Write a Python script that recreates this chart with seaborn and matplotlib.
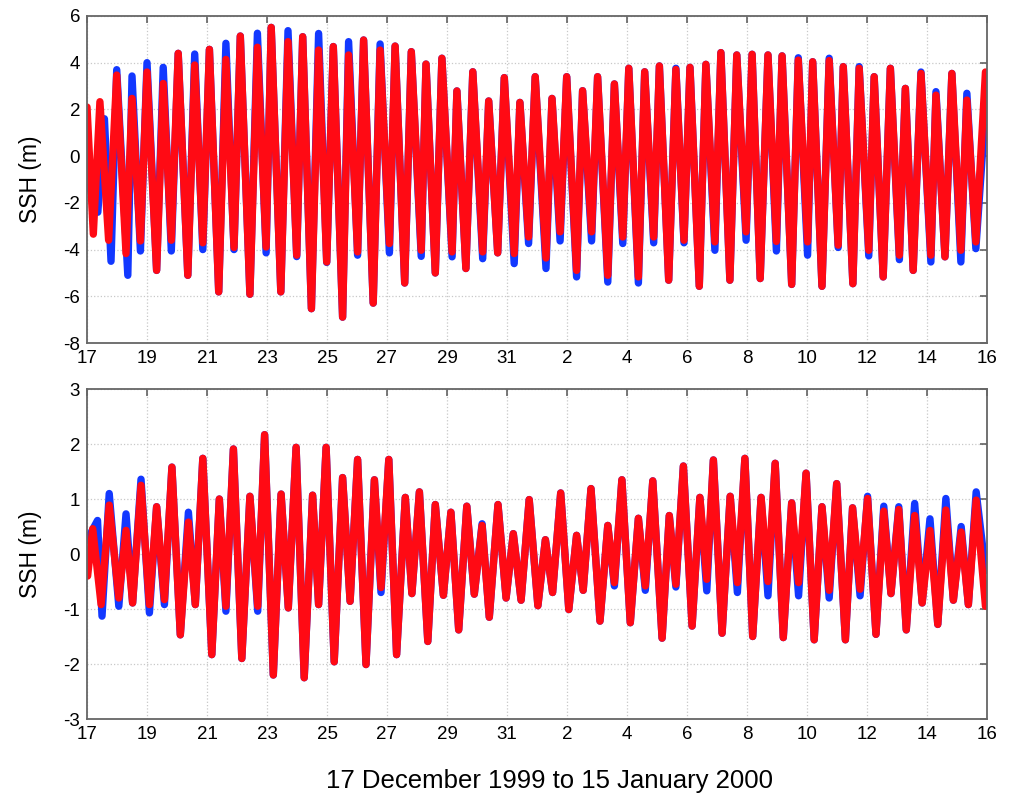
import numpy as np
import seaborn as sns
import matplotlib
matplotlib.use("Agg")
import matplotlib.pyplot as plt

# days since 17 Dec 1999, high / low water (m)
red_top_days = [0.00, 0.21, 0.43, 0.72, 0.99, 1.30, 1.50, 1.78, 2.00, 2.32,
                2.54, 2.81, 3.04, 3.36, 3.59, 3.86, 4.08, 4.39, 4.63, 4.90,
                5.11, 5.43, 5.68, 5.97, 6.14, 6.46, 6.70, 6.99, 7.19, 7.48,
                7.72, 7.99, 8.21, 8.52, 8.72, 9.02, 9.22, 9.54, 9.77, 10.08,
                10.27, 10.59, 10.81, 11.14, 11.30, 11.61, 11.83, 12.17, 12.33, 12.63,
                12.86, 13.19, 13.39, 13.69, 13.91, 14.24, 14.43, 14.72, 14.94, 15.30,
                15.50, 15.77, 15.99, 16.32, 16.52, 16.82, 17.02, 17.36, 17.58, 17.86,
                18.06, 18.38, 18.59, 18.89, 19.08, 19.39, 19.63, 19.90, 20.10, 20.41,
                20.63, 20.93, 21.13, 21.43, 21.66, 21.97, 22.17, 22.44, 22.70, 22.98,
                23.17, 23.49, 23.71, 24.02, 24.19, 24.50, 24.74, 25.04, 25.21, 25.53,
                25.74, 26.06, 26.24, 26.54, 26.78, 27.08, 27.28, 27.54, 27.80, 28.13,
                28.30, 28.60, 28.83, 29.13, 29.33, 29.63, 29.95]
red_top_ssh = [2.10, -3.34, 2.33, -3.60, 3.47, -4.17, 2.47, -3.63, 3.60, -4.89,
               3.11, -3.60, 4.40, -5.10, 3.90, -3.71, 4.57, -5.81, 4.14, -3.91,
               5.14, -5.91, 4.66, -3.89, 5.51, -5.81, 4.90, -4.24, 5.11, -6.53,
               4.54, -4.53, 4.69, -6.89, 4.33, -4.10, 4.97, -6.29, 4.54, -3.74,
               4.71, -5.43, 4.47, -4.03, 3.94, -5.00, 4.19, -4.10, 2.79, -4.81,
               3.61, -4.10, 2.36, -4.14, 3.36, -4.17, 2.30, -3.46, 3.40, -4.36,
               2.47, -3.24, 3.40, -4.89, 2.80, -3.24, 3.40, -5.10, 3.09, -3.46,
               3.76, -5.17, 3.61, -3.46, 3.86, -5.31, 3.71, -3.60, 3.80, -5.57,
               3.93, -3.67, 4.43, -5.31, 4.33, -3.24, 4.36, -5.24, 4.33, -3.65,
               4.29, -5.49, 4.11, -3.67, 4.04, -5.57, 4.09, -3.81, 3.83, -5.46,
               3.76, -4.03, 3.40, -5.17, 3.76, -4.24, 2.90, -4.89, 3.54, -4.24,
               2.61, -4.31, 3.54, -4.03, 2.40, -3.67, 3.60]

blue_top_days = [0.00, 0.36, 0.58, 0.80, 0.99, 1.36] + red_top_days[6:]
blue_top_ssh = [-1.00, -2.40, 1.60, -4.50, 3.70, -5.10,
                3.43, -4.06, 4.00, -4.89,
                3.80, -4.06, 4.40, -5.10, 4.37, -4.00, 4.57, -5.81, 4.83, -4.00,
                5.14, -5.91, 5.26, -4.14, 5.51, -5.81, 5.37, -4.30, 5.11, -6.53,
                5.25, -4.55, 4.69, -6.89, 4.90, -4.24, 4.97, -6.29, 4.80, -4.14,
                4.71, -5.43, 4.47, -4.29, 3.94, -5.00, 4.19, -4.31, 2.79, -4.81,
                3.61, -4.39, 2.36, -4.14, 3.36, -4.60, 2.30, -3.74, 3.40, -4.81,
                2.47, -3.63, 3.40, -5.17, 2.80, -3.63, 3.40, -5.39, 3.09, -3.74,
                3.76, -5.43, 3.61, -3.71, 3.86, -5.31, 3.76, -3.71, 3.80, -5.57,
                3.93, -4.03, 4.43, -5.31, 4.33, -3.60, 4.36, -5.24, 4.33, -4.06,
                4.29, -5.49, 4.21, -4.24, 4.04, -5.57, 4.19, -3.91, 3.83, -5.46,
                3.83, -4.27, 3.40, -5.17, 3.76, -4.43, 2.90, -4.89, 3.60, -4.53,
                2.76, -4.31, 3.54, -4.53, 2.69, -3.96, 2.00]

red_bot_days = [0.02, 0.19, 0.47, 0.74, 1.06, 1.30, 1.52, 1.80, 2.08, 2.32,
                2.58, 2.83, 3.11, 3.38, 3.61, 3.86, 4.16, 4.41, 4.63, 4.88,
                5.16, 5.43, 5.69, 5.92, 6.21, 6.47, 6.71, 6.97, 7.24, 7.52,
                7.72, 7.97, 8.24, 8.52, 8.77, 9.02, 9.30, 9.58, 9.80, 10.06,
                10.32, 10.61, 10.83, 11.08, 11.36, 11.61, 11.88, 12.13, 12.39, 12.66,
                12.91, 13.17, 13.41, 13.70, 13.97, 14.21, 14.47, 14.74, 15.03, 15.28,
                15.52, 15.79, 16.06, 16.32, 16.54, 16.80, 17.10, 17.36, 17.58, 17.83,
                18.11, 18.38, 18.61, 18.86, 19.17, 19.41, 19.63, 19.88, 20.17, 20.43,
                20.66, 20.88, 21.17, 21.44, 21.68, 21.93, 22.19, 22.47, 22.70, 22.94,
                23.21, 23.49, 23.72, 23.97, 24.24, 24.50, 24.74, 24.99, 25.28, 25.52,
                25.77, 26.02, 26.30, 26.56, 26.80, 27.06, 27.31, 27.59, 27.84, 28.10,
                28.36, 28.63, 28.88, 29.14, 29.38, 29.64, 29.95]
red_bot_ssh = [-0.40, 0.46, -0.92, 0.89, -0.80, 0.43, -0.89, 1.25, -0.92, 0.86,
               -0.83, 1.58, -1.47, 0.58, -0.92, 1.74, -1.83, 1.00, -0.95, 1.91,
               -1.90, 1.05, -0.95, 2.17, -2.20, 1.09, -0.98, 1.94, -2.25, 1.07,
               -0.92, 1.94, -1.96, 1.39, -0.86, 1.72, -2.01, 1.35, -0.61, 1.72,
               -1.83, 1.03, -0.72, 1.13, -1.59, 0.90, -0.75, 0.76, -1.38, 0.87,
               -0.73, 0.52, -1.15, 0.90, -0.80, 0.37, -0.84, 0.99, -0.94, 0.26,
               -0.70, 1.11, -1.01, 0.34, -0.66, 1.19, -1.22, 0.52, -0.52, 1.35,
               -1.25, 0.65, -0.58, 1.33, -1.53, 0.70, -0.55, 1.60, -1.31, 1.03,
               -0.46, 1.71, -1.44, 1.05, -0.52, 1.74, -1.50, 1.03, -0.50, 1.65,
               -1.52, 0.93, -0.52, 1.47, -1.56, 0.86, -0.66, 1.28, -1.56, 0.84,
               -0.64, 1.01, -1.46, 0.78, -0.72, 0.81, -1.38, 0.70, -0.89, 0.43,
               -1.28, 0.80, -0.84, 0.40, -0.92, 0.98, -0.95]

blue_bot_days = [0.00, 0.35, 0.50] + red_bot_days[3:]
blue_bot_ssh = [0.25, 0.61, -1.13,
                1.10, -0.95, 0.73, -0.89, 1.36, -1.07, 0.86,
                -0.92, 1.58, -1.47, 0.76, -0.92, 1.74, -1.83, 1.00, -1.04, 1.91,
                -1.90, 1.05, -1.04, 2.17, -2.20, 1.09, -0.98, 1.94, -2.25, 1.07,
                -0.92, 1.94, -1.96, 1.39, -0.86, 1.72, -2.01, 1.35, -0.70, 1.72,
                -1.83, 1.03, -0.72, 1.13, -1.59, 0.90, -0.75, 0.76, -1.38, 0.87,
                -0.73, 0.55, -1.15, 0.90, -0.80, 0.37, -0.84, 0.99, -0.94, 0.26,
                -0.70, 1.11, -1.01, 0.34, -0.66, 1.19, -1.22, 0.52, -0.58, 1.35,
                -1.25, 0.65, -0.66, 1.33, -1.53, 0.70, -0.60, 1.60, -1.31, 1.03,
                -0.67, 1.71, -1.44, 1.05, -0.70, 1.74, -1.50, 1.03, -0.76, 1.65,
                -1.52, 0.93, -0.76, 1.47, -1.56, 0.86, -0.80, 1.28, -1.56, 0.84,
                -0.76, 1.05, -1.46, 0.87, -0.72, 0.86, -1.38, 0.92, -0.89, 0.64,
                -1.28, 1.01, -0.84, 0.50, -0.92, 1.13, -0.30]

tick_days = list(range(0, 31, 2))
tick_labels = ['17', '19', '21', '23', '25', '27', '29', '31',
               '2', '4', '6', '8', '10', '12', '14', '16']

sns.set_style('white')
plt.rcParams['font.family'] = ['Liberation Sans', 'DejaVu Sans']
plt.rcParams['axes.unicode_minus'] = False

fig = plt.figure(figsize=(10.13, 7.96), dpi=100)
ax1 = fig.add_axes([0.0859, 0.569, 0.8884, 0.411])
ax2 = fig.add_axes([0.0859, 0.0967, 0.8884, 0.4146])

panels = [(ax1, blue_top_days, blue_top_ssh, red_top_days, red_top_ssh, (-8, 6), np.arange(-8, 7, 2)),
          (ax2, blue_bot_days, blue_bot_ssh, red_bot_days, red_bot_ssh, (-3, 3), np.arange(-3, 4, 1))]

for ax, bd, bs, rd, rs, ylim, yticks in panels:
    sns.lineplot(x=bd, y=bs, ax=ax, color='#1238ff', linewidth=5.3, sort=False,
                 estimator=None, solid_joinstyle='round', solid_capstyle='round')
    sns.lineplot(x=rd, y=rs, ax=ax, color='#ff0a14', linewidth=5.3, sort=False,
                 estimator=None, solid_joinstyle='round', solid_capstyle='round')
    ax.set_xlim(0, 30)
    ax.set_ylim(*ylim)
    ax.set_yticks(yticks)
    ax.set_xticks(tick_days)
    ax.set_xticklabels(tick_labels)
    ax.grid(True, linestyle=':', color='#c8c8c8', linewidth=0.9)
    ax.set_axisbelow(True)
    ax.tick_params(direction='in', length=5, width=1.1, color='#555555',
                   top=True, right=True, labelsize=13.5, labelcolor='black', pad=5)
    for s in ax.spines.values():
        s.set_color('#666666')
        s.set_linewidth(1.3)
    ax.set_ylabel('SSH (m)', fontsize=16.5, color='black')
    ax.yaxis.set_label_coords(-0.05, 0.5)

ax2.set_xlabel('17 December 1999 to 15 January 2000', fontsize=18.5, color='black')
ax2.xaxis.set_label_coords(0.514, -0.15)

plt.savefig('out.png', dpi=100)
